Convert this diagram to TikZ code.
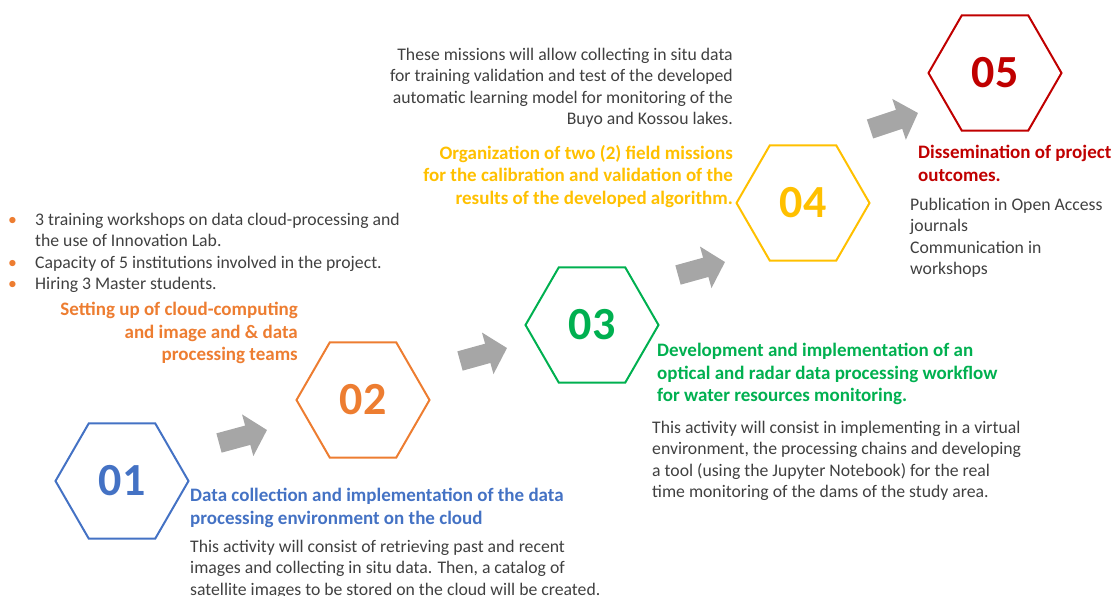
\documentclass[tikz,border=0pt]{standalone}
\usepackage{fontspec}
\setmainfont{Carlito}
\usetikzlibrary{shapes.geometric,arrows.meta}
\definecolor{hexblue}{HTML}{4472C4}
\definecolor{hexorange}{HTML}{ED7D31}
\definecolor{hexgreen}{HTML}{00B050}
\definecolor{hexgold}{HTML}{FFC000}
\definecolor{hexred}{HTML}{C00000}
\definecolor{textgray}{HTML}{404040}
\definecolor{arrowgray}{HTML}{A6A6A6}
\newcommand\bul{\makebox[27pt][l]{\textcolor{hexorange}{\textbullet}}}
\begin{document}
\begin{tikzpicture}[x=1pt, y=-1pt, hex style/.style={regular polygon, regular polygon sides=6, draw, line width=2pt, minimum size=133pt, inner sep=0pt, font=\fontsize{46}{46}\selectfont\bfseries}, head style/.style={inner sep=0pt, font=\fontsize{19}{22.5}\selectfont\bfseries}, body style/.style={inner sep=0pt, text=textgray, font=\fontsize{17.7}{21.5}\selectfont}, arrow style/.style={line width=20pt, arrowgray, -{Triangle[length=20pt, width=42pt]}}]
	\useasboundingbox (0,0) rectangle (1113,596);
	\node[hex style, hexblue] (H1) at (122,481) {01};
	\node[hex style, hexorange] (H2) at (363,400) {02};
	\node[hex style, hexgreen] (H3) at (592,325) {03};
	\node[hex style, hexgold] (H4) at (803,203) {04};
	\node[hex style, hexred] (H5) at (995,73) {05};
	\coordinate (A1s) at (219,443);
	\coordinate (A1e) at (267,430);
	\coordinate (A2s) at (460,361);
	\coordinate (A2e) at (507,348);
	\coordinate (A3s) at (678,275);
	\coordinate (A3e) at (725,262);
	\coordinate (A4s) at (870,129);
	\coordinate (A4e) at (918,113);
	\draw[arrow style] (A1s) -- (A1e);
	\draw[arrow style] (A2s) -- (A2e);
	\draw[arrow style] (A3s) -- (A3e);
	\draw[arrow style] (A4s) -- (A4e);
	\node[head style, hexblue, anchor=north west, align=left] (T1) at (190,488) {Data collection and implementation of the data\\processing environment on the cloud};
	\node[body style, anchor=north west, align=left] (B1) at (190,540) {This activity will consist of retrieving past and recent\\images and collecting in situ data. Then, a catalog of\\satellite images to be stored on the cloud will be created.};
	\node[head style, hexorange, anchor=north east, align=right] (T2) at (298,302) {Setting up of cloud-computing\\and image and \& data\\processing teams};
	\node[body style, anchor=north west, align=left] (B2) at (8,213) {\bul 3 training workshops on data cloud-processing and\\\hspace*{27pt}the use of Innovation Lab.\\\bul Capacity of 5 institutions involved in the project.\\\bul Hiring 3 Master students.};
	\node[head style, hexgreen, anchor=north west, align=left] (T3) at (657,343) {Development and implementation of an\\optical and radar data processing workflow\\for water resources monitoring.};
	\node[body style, anchor=north west, align=left] (B3) at (652,421) {This activity will consist in implementing in a virtual\\environment, the processing chains and developing\\a tool (using the Jupyter Notebook) for the real\\time monitoring of the dams of the study area.};
	\node[head style, hexgold, anchor=north east, align=right] (T4) at (733,145) {Organization of two (2) field missions\\for the calibration and validation of the\\results of the developed algorithm.};
	\node[body style, anchor=north east, align=right] (B4) at (733,48) {These missions will allow collecting in situ data\\for training validation and test of the developed\\automatic learning model for monitoring of the\\Buyo and Kossou lakes.};
	\node[head style, hexred, anchor=north west, align=left] (T5) at (918,145) {Dissemination of project\\outcomes.};
	\node[body style, anchor=north west, align=left] (B5) at (910,198) {Publication in Open Access\\journals\\Communication in\\workshops};
\end{tikzpicture}
\end{document}
